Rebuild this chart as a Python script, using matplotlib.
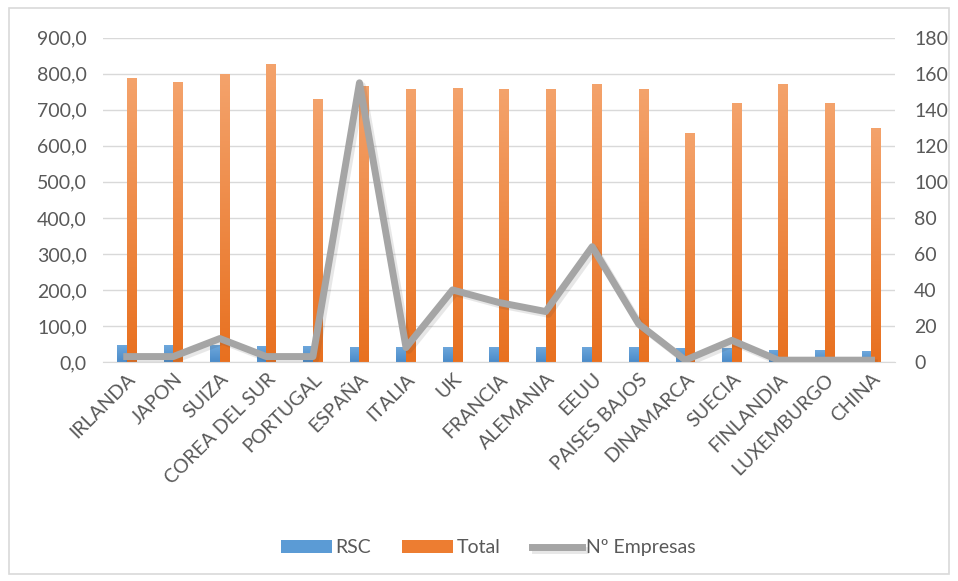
import numpy as np
import matplotlib
matplotlib.use("Agg")
import matplotlib.pyplot as plt
import matplotlib.patheffects as pe
from matplotlib.patches import Rectangle
from matplotlib.colors import LinearSegmentedColormap

paises = ["IRLANDA", "JAPON", "SUIZA", "COREA DEL SUR", "PORTUGAL", "ESPAÑA",
          "ITALIA", "UK", "FRANCIA", "ALEMANIA", "EEUU", "PAISES BAJOS",
          "DINAMARCA", "SUECIA", "FINLANDIA", "LUXEMBURGO", "CHINA"]
rsc = [48, 47, 46, 45, 45, 42, 42, 42, 42, 42, 42, 42, 40, 40, 34, 33, 30]
total = [789, 778, 800, 828, 731, 767, 758, 761, 758, 758, 773, 758,
         636, 720, 772, 720, 650]
empresas = [3, 3, 13, 3, 3, 155, 8, 40, 33, 28, 64, 21, 1, 12, 1, 1, 1]

plt.rcParams['font.family'] = ['Lato', 'DejaVu Sans']
grey_txt = '#595959'

fig = plt.figure(figsize=(9.58, 5.81), dpi=100)
fig.patches.append(Rectangle((0.009, 0.012), 0.982, 0.975, transform=fig.transFigure,
                             fill=False, edgecolor='#D9D9D9', linewidth=1.2))
ax = fig.add_axes([0.108, 0.377, 0.826, 0.558])
ax2 = ax.twinx()

x = np.arange(len(paises))
w = 0.21
b1 = ax.bar(x - w / 2, rsc, w, color='#5B9BD5', label='RSC', zorder=2)
b2 = ax.bar(x + w / 2, total, w, color='#ED7D31', label='Total', zorder=2)


def gradient(bars, top, bottom):
    cmap = LinearSegmentedColormap.from_list('g', [bottom, top])
    grad = np.linspace(0, 1, 256).reshape(-1, 1)
    for r in bars:
        x0, y0 = r.get_x(), r.get_y()
        im = ax.imshow(grad, cmap=cmap, aspect='auto', origin='lower',
                       extent=(x0, x0 + r.get_width(), y0, y0 + r.get_height()),
                       zorder=2.1)
        im.set_clip_path(r)


gradient(b1, '#6FA8DC', '#4A8BC9')
gradient(b2, '#F4A36C', '#E8701F')

ax2.plot(x, empresas, color='#A5A5A5', linewidth=5, label='Nº Empresas',
         path_effects=[pe.SimpleLineShadow(offset=(2, -2), alpha=0.12, shadow_color='#404040'),
                       pe.Normal()])

ax.set_xlim(-0.5, len(paises) - 0.5)
ax.set_ylim(0, 900)
ax.set_yticks(np.arange(0, 901, 100))
ax.set_yticklabels([f"{v:.1f}".replace('.', ',') for v in np.arange(0, 901, 100)])
ax2.set_ylim(0, 180)
ax2.set_yticks(np.arange(0, 181, 20))

ax.set_xticks(x)
ax.set_xticklabels(paises, rotation=45, ha='right', rotation_mode='anchor')

ax.grid(axis='y', color='#D9D9D9', linewidth=1, zorder=0)
ax.set_axisbelow(True)
for a in (ax, ax2):
    for s in a.spines.values():
        s.set_visible(False)
    a.tick_params(length=0, colors=grey_txt, labelsize=14)
ax.spines['bottom'].set_visible(True)
ax.spines['bottom'].set_color('#D9D9D9')
ax.tick_params(axis='y', pad=12)
ax.tick_params(axis='x', pad=6)
ax2.tick_params(axis='y', pad=14)

h1, l1 = ax.get_legend_handles_labels()
h2, l2 = ax2.get_legend_handles_labels()
fig.legend(h1 + h2, l1 + l2, loc='center', bbox_to_anchor=(0.51, 0.057), ncol=3,
           frameon=False, fontsize=14, labelcolor=grey_txt, handlelength=2.6,
           handleheight=0.6, columnspacing=1.6, handletextpad=0.2)

fig.savefig("out.png", dpi=100)
